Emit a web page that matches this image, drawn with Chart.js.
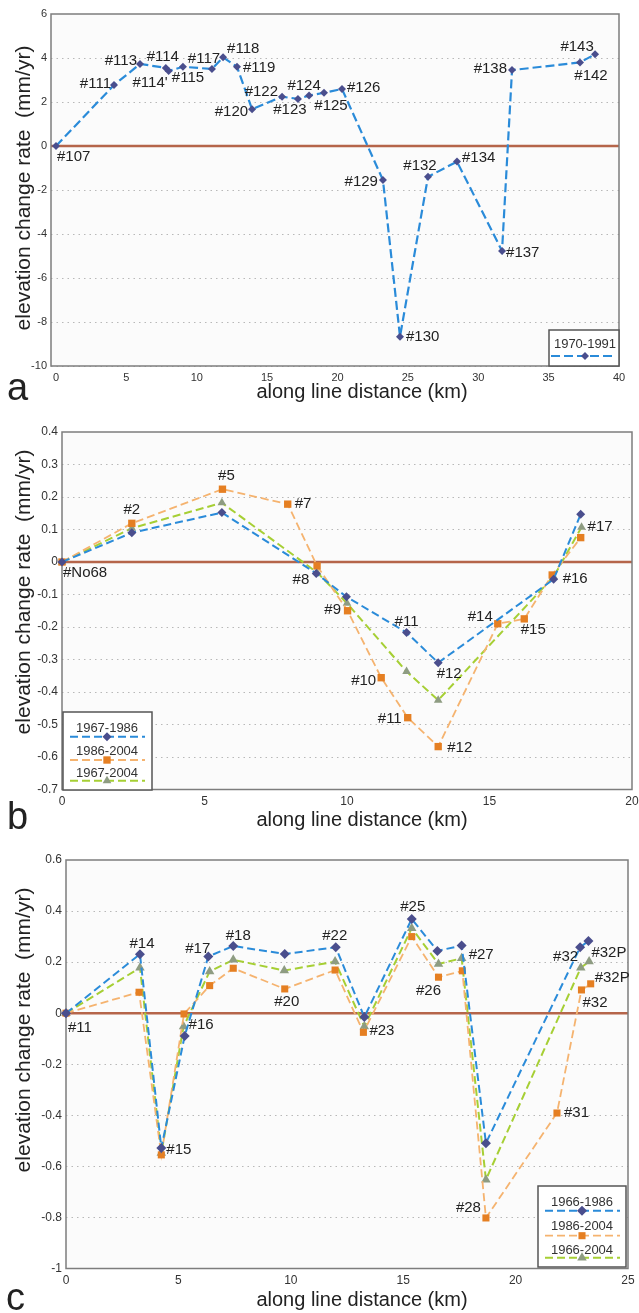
<!DOCTYPE html>
<html>
<head>
<meta charset="utf-8">
<script src="https://cdn.jsdelivr.net/npm/chart.js@4.4.1/dist/chart.umd.min.js"></script>
<style>
  body { margin: 0; background: #fff; width: 639px; height: 1313px; position: relative; overflow: hidden;
         font-family: Arial, "Liberation Sans", sans-serif; color: #222; }
  canvas { position: absolute; left: 0; }
  .xt { position: absolute; font-size: 20px; white-space: nowrap; transform: translate(-50%, -50%); }
  .yt { position: absolute; font-size: 21px; white-space: nowrap; transform: translate(-50%, -50%) rotate(-90deg); }
  .pl { position: absolute; font-size: 38px; line-height: 1; }
</style>
</head>
<body>
<canvas id="chartA"></canvas>
<canvas id="chartB"></canvas>
<canvas id="chartC"></canvas>

<div class="yt" style="left:23px;top:188px">elevation change rate&nbsp; (mm/yr)</div>
<div class="xt" style="left:362px;top:391px">along line distance (km)</div>
<div class="pl" style="left:7px;top:368px">a</div>

<div class="yt" style="left:23px;top:592px">elevation change rate&nbsp; (mm/yr)</div>
<div class="xt" style="left:362px;top:819px">along line distance (km)</div>
<div class="pl" style="left:7px;top:797px">b</div>

<div class="yt" style="left:23px;top:1030px">elevation change rate&nbsp; (mm/yr)</div>
<div class="xt" style="left:362px;top:1299px">along line distance (km)</div>
<div class="pl" style="left:6px;top:1278px">c</div>

<script>
// === DATA: PANEL A ===
const seriesNamesA = ['1970-1991'];
const stationsA = ['#107', '#111', '#113', '#114', "#114'", '#115', '#117', '#118', '#119', '#120', '#122', '#123',
  '#124', '#125', '#126', '#129', '#130', '#132', '#134', '#137', '#138', '#142', '#143'];
const distA = [0, 4.12, 5.97, 7.8, 8.0, 9.02, 11.08, 11.87, 12.86, 13.93, 16.06, 17.19,
  17.98, 19.04, 20.32, 23.23, 24.44, 26.43, 28.49, 31.69, 32.4, 37.23, 38.3];
const rateA = [0, 2.77, 3.73, 3.55, 3.41, 3.6, 3.5, 4.03, 3.6, 1.67, 2.24, 2.14,
  2.29, 2.42, 2.59, -1.55, -8.67, -1.4, -0.71, -4.77, 3.45, 3.8, 4.17];
const xTicksA = [0, 5, 10, 15, 20, 25, 30, 35, 40];
const yTicksA = [-10, -8, -6, -4, -2, 0, 2, 4, 6];

// === DATA: PANEL B ===
const seriesNamesB = ['1967-1986', '1986-2004', '1967-2004'];
const stationsB1 = ['#No68', '#2', '#5', '#8', '#9', '#11', '#12', '#16', '#17'];
const distB1 = [0, 2.45, 5.61, 8.92, 9.98, 12.09, 13.2, 17.25, 18.2];
const rateB1 = [0, 0.09, 0.152, -0.035, -0.107, -0.217, -0.31, -0.053, 0.147];
const stationsB2 = ['#No68', '#2', '#5', '#7', '#8', '#9', '#10', '#11', '#12', '#14', '#15', '#16', '#17'];
const distB2 = [0, 2.45, 5.63, 7.92, 8.95, 10.02, 11.2, 12.13, 13.2, 15.29, 16.22, 17.2, 18.2];
const rateB2 = [0, 0.119, 0.224, 0.178, -0.012, -0.15, -0.356, -0.479, -0.568, -0.19, -0.175, -0.04, 0.075];
const stationsB3 = ['#No68', '#2', '#5', '#8', '#9', '#11', '#12', '#16', '#17'];
const distB3 = [0, 2.45, 5.61, 8.95, 10.0, 12.09, 13.2, 17.25, 18.23];
const rateB3 = [0, 0.104, 0.182, -0.032, -0.127, -0.337, -0.425, -0.045, 0.107];
const xTicksB = [0, 5, 10, 15, 20];
const yTicksB = [-0.7, -0.6, -0.5, -0.4, -0.3, -0.2, -0.1, 0, 0.1, 0.2, 0.3, 0.4];

// === DATA: PANEL C ===
const seriesNamesC = ['1966-1986', '1986-2004', '1966-2004'];
const stationsC1 = ['#11', '#14', '#15', '#16', '#17', '#18', '#20', '#22', '#23', '#25', '#26', '#27', '#28', '#32', '#32P'];
const distC1 = [0, 3.29, 4.24, 5.28, 6.33, 7.44, 9.73, 12.0, 13.27, 15.38, 16.52, 17.6, 18.68, 22.87, 23.24];
const rateC1 = [0, 0.231, -0.528, -0.089, 0.222, 0.263, 0.232, 0.258, -0.015, 0.369, 0.244, 0.265, -0.509, 0.258, 0.283];
const stationsC2 = ['#11', '#14', '#15', '#16', '#17', '#18', '#20', '#22', '#23', '#25', '#26', '#27', '#28', '#31', '#32', '#32P'];
const distC2 = [0, 3.25, 4.24, 5.25, 6.39, 7.44, 9.73, 11.97, 13.23, 15.38, 16.57, 17.63, 18.68, 21.84, 22.93, 23.34];
const rateC2 = [0, 0.082, -0.555, -0.003, 0.108, 0.176, 0.095, 0.169, -0.075, 0.3, 0.141, 0.166, -0.802, -0.391, 0.091, 0.115];
const stationsC3 = stationsC1;
const distC3 = [0, 3.29, 4.24, 5.23, 6.39, 7.44, 9.71, 11.97, 13.27, 15.38, 16.57, 17.6, 18.68, 22.9, 23.27];
const rateC3 = [0, 0.178, -0.548, -0.052, 0.163, 0.209, 0.167, 0.202, -0.052, 0.333, 0.193, 0.215, -0.652, 0.178, 0.202];
const xTicksC = [0, 5, 10, 15, 20, 25];
const yTicksC = [-1, -0.8, -0.6, -0.4, -0.2, 0, 0.2, 0.4, 0.6];

// === STYLE ===
const FONT = 'Arial, "Liberation Sans", sans-serif';
Chart.defaults.font.family = FONT;
const BLUE = { line: '#2a8bd9', mark: '#4a4e8d', style: 'rectRot' };
const ORANGE = { line: '#f5b36f', mark: '#e57f22', style: 'rect' };
const GREEN = { line: '#a6cf34', mark: '#8e9c82', style: 'triangle' };

// label placement [dx, dy, align] for each station of panel a
const labelPosA = [[1, 11, 'left'], [-3, -1, 'right'], [-3, -3, 'right'], [-3, -11, 'center'], [-1, 12, 'right'],
  [5, 11, 'center'], [-8, -10, 'center'], [4, -8, 'left'], [6, 1, 'left'], [-4, 3, 'right'], [-4, -5, 'right'],
  [-8, 11, 'center'], [-5, -10, 'center'], [7, 13, 'center'], [5, -1, 'left'], [-5, 2, 'right'], [6, 0, 'left'],
  [-8, -11, 'center'], [5, -4, 'left'], [4, 2, 'left'], [-5, -1, 'right'], [11, 13, 'center'], [-18, -7, 'center']];
// [series, index, dx, dy, align]
const labelPosB = [[0, 0, 1, 11, 'left'], [1, 1, 0, -13, 'center'], [1, 2, 4, -13, 'center'], [1, 3, 7, 0, 'left'],
  [0, 3, -7, 6, 'right'], [2, 4, -6, 7, 'right'], [0, 5, 0, -11, 'center'], [0, 6, 11, 11, 'center'],
  [1, 6, -5, 3, 'right'], [1, 7, -6, 1, 'right'], [1, 8, 9, 1, 'left'], [1, 9, -5, -7, 'right'],
  [1, 10, 9, 11, 'center'], [0, 7, 9, 0, 'left'], [2, 8, 6, 0, 'left']];
const labelPosC = [[0, 0, 2, 15, 'left'], [0, 1, 2, -10, 'center'], [0, 2, 5, 2, 'left'], [2, 3, 5, -2, 'left'],
  [0, 4, 2, -8, 'right'], [0, 5, 5, -10, 'center'], [1, 6, 2, 13, 'center'], [0, 7, -1, -11, 'center'],
  [1, 8, 6, -1, 'left'], [0, 9, 1, -12, 'center'], [1, 10, -10, 14, 'center'], [2, 11, 7, -3, 'left'],
  [1, 12, -5, -10, 'right'], [1, 13, 7, 0, 'left'], [0, 13, -2, 10, 'right'], [0, 14, 3, 12, 'left'],
  [1, 15, 4, -6, 'left'], [1, 14, 1, 13, 'left']];

// === DRAW HELPERS ===
function drawMarker(ctx, style, r, x, y, color) {
  ctx.fillStyle = color;
  ctx.beginPath();
  if (style === 'rectRot') {
    ctx.moveTo(x, y - r); ctx.lineTo(x + r, y); ctx.lineTo(x, y + r); ctx.lineTo(x - r, y);
  } else if (style === 'rect') {
    const s = r * Math.SQRT1_2;
    ctx.rect(x - s, y - s, 2 * s, 2 * s);
  } else {
    ctx.moveTo(x, y - r); ctx.lineTo(x + r * 0.866, y + r / 2); ctx.lineTo(x - r * 0.866, y + r / 2);
  }
  ctx.closePath();
  ctx.fill();
}

const decor = {
  id: 'decor',
  beforeDraw(chart) {
    const { ctx, chartArea: a } = chart;
    ctx.save();
    ctx.fillStyle = '#fbfbfb';
    ctx.fillRect(a.left, a.top, a.right - a.left, a.bottom - a.top);
    ctx.restore();
  },
  beforeDatasetsDraw(chart) {
    const { ctx, chartArea: a, scales } = chart;
    const y0 = scales.y.getPixelForValue(0);
    ctx.save();
    ctx.strokeStyle = '#b5654a';
    ctx.lineWidth = 2.5;
    ctx.beginPath(); ctx.moveTo(a.left, y0); ctx.lineTo(a.right, y0); ctx.stroke();
    ctx.strokeStyle = '#7d7d7d';
    ctx.lineWidth = 1.5;
    ctx.strokeRect(a.left, a.top, a.right - a.left, a.bottom - a.top);
    ctx.restore();
  },
  afterDatasetsDraw(chart, args, o) {
    const ctx = chart.ctx;
    ctx.save();
    // station labels
    ctx.font = '15px ' + FONT;
    ctx.fillStyle = '#222';
    ctx.textBaseline = 'middle';
    o.labels.forEach(([s, i, dx, dy, align]) => {
      const p = chart.getDatasetMeta(s).data[i];
      ctx.textAlign = align;
      ctx.fillText(o.names[s][i], p.x + dx, p.y + dy);
    });
    // legend
    const L = o.legend, t = o.top;
    ctx.fillStyle = '#fff';
    ctx.strokeStyle = '#555';
    ctx.lineWidth = 1.5;
    ctx.fillRect(L.box[0], L.box[1] - t, L.box[2] - L.box[0], L.box[3] - L.box[1]);
    ctx.strokeRect(L.box[0], L.box[1] - t, L.box[2] - L.box[0], L.box[3] - L.box[1]);
    ctx.font = '13px ' + FONT;
    ctx.textAlign = 'center';
    chart.data.datasets.forEach((ds, k) => {
      const [ty, ly] = L.rows[k];
      ctx.fillStyle = '#333';
      ctx.fillText(ds.label, L.cx, ty - t);
      ctx.strokeStyle = ds.borderColor;
      ctx.lineWidth = ds.borderWidth;
      ctx.setLineDash(ds.borderDash);
      ctx.beginPath(); ctx.moveTo(L.lx[0], ly - t); ctx.lineTo(L.lx[1], ly - t); ctx.stroke();
      ctx.setLineDash([]);
      drawMarker(ctx, ds.pointStyle, ds.pointRadius, L.cx, ly - t, ds.pointBackgroundColor);
    });
    ctx.restore();
  }
};

function makeSeries(name, xs, ys, col, r, w, dash) {
  return {
    label: name,
    data: xs.map((x, i) => ({ x, y: ys[i] })),
    borderColor: col.line, borderWidth: w, borderDash: dash,
    pointStyle: col.style, pointRadius: r, pointHoverRadius: r,
    pointBackgroundColor: col.mark, pointBorderWidth: 0,
    fill: false, tension: 0, clip: false
  };
}

const fmt = v => String(+Number(v).toFixed(2));

// p: id, top, h, box [left, top, right, bottom] in page px
function makePanel(p) {
  const cv = document.getElementById(p.id);
  cv.width = 639; cv.height = p.h;
  cv.style.top = p.top + 'px';
  const [bl, bt, br, bb] = p.box;
  const xH = p.top + p.h - bb;
  return new Chart(cv, {
    type: 'line',
    data: { datasets: p.datasets },
    options: {
      responsive: false, animation: false, devicePixelRatio: 1, locale: 'en-US',
      layout: { padding: { left: 0, top: bt - p.top, right: 639 - br, bottom: 0 } },
      plugins: {
        legend: { display: false }, tooltip: { enabled: false },
        decor: { labels: p.labels, names: p.names, legend: p.legend, top: p.top }
      },
      scales: {
        x: {
          type: 'linear', min: p.xMin, max: p.xMax,
          afterBuildTicks: s => { s.ticks = p.xTicks.map(v => ({ value: v })); },
          afterFit: s => { s.height = xH; s.paddingLeft = 0; s.paddingRight = 0; },
          grid: { display: false, drawTicks: false }, border: { display: false },
          ticks: { font: { size: p.fs }, color: '#333', padding: 5, maxRotation: 0, autoSkip: false, callback: fmt }
        },
        y: {
          min: p.yTicks[0], max: p.yTicks[p.yTicks.length - 1],
          afterBuildTicks: s => { s.ticks = p.yTicks.map(v => ({ value: v })); },
          afterFit: s => { s.width = bl; s.paddingTop = 0; s.paddingBottom = 0; },
          grid: {
            color: c => (c.tick && (c.tick.value === 0 || c.index === p.yTicks.length - 1)) ? 'rgba(0,0,0,0)' : '#b8b8b8',
            lineWidth: 1, drawTicks: false
          },
          border: { display: false, dash: [1.5, 4] },
          ticks: { font: { size: p.fs }, color: '#333', padding: 4, autoSkip: false, callback: fmt }
        }
      }
    },
    plugins: [decor]
  });
}

// === PANEL A ===
makePanel({
  id: 'chartA', top: 0, h: 398, box: [51, 14, 619, 366],
  xMin: -0.355, xMax: 40, xTicks: xTicksA, yTicks: yTicksA, fs: 11,
  datasets: [makeSeries(seriesNamesA[0], distA, rateA, BLUE, 4, 2.2, [9, 4])],
  names: [stationsA],
  labels: labelPosA.map((q, i) => [0, i, q[0], q[1], q[2]]),
  legend: { box: [549, 330, 619, 366], cx: 585, lx: [551, 612], rows: [[344, 356]] }
});

// === PANEL B ===
makePanel({
  id: 'chartB', top: 400, h: 425, box: [62, 432, 632, 789.5],
  xMin: 0, xMax: 20, xTicks: xTicksB, yTicks: yTicksB, fs: 12,
  datasets: [
    makeSeries(seriesNamesB[0], distB1, rateB1, BLUE, 4.5, 2, [8, 4]),
    makeSeries(seriesNamesB[1], distB2, rateB2, ORANGE, 5.2, 1.8, [8, 4]),
    makeSeries(seriesNamesB[2], distB3, rateB3, GREEN, 5, 2, [8, 4])
  ],
  names: [stationsB1, stationsB2, stationsB3],
  labels: labelPosB,
  legend: { box: [63, 712, 152, 790], cx: 107, lx: [70, 145], rows: [[728, 736.7], [751, 760], [773, 780.7]] }
});

// === PANEL C ===
makePanel({
  id: 'chartC', top: 840, h: 460, box: [66, 860, 628, 1268.5],
  xMin: 0, xMax: 25, xTicks: xTicksC, yTicks: yTicksC, fs: 12,
  datasets: [
    makeSeries(seriesNamesC[0], distC1, rateC1, BLUE, 5, 2, [8, 4]),
    makeSeries(seriesNamesC[1], distC2, rateC2, ORANGE, 5, 1.8, [8, 4]),
    makeSeries(seriesNamesC[2], distC3, rateC3, GREEN, 5.5, 2, [8, 4])
  ],
  names: [stationsC1, stationsC2, stationsC3],
  labels: labelPosC,
  legend: { box: [538, 1186, 626, 1267], cx: 582, lx: [545, 620], rows: [[1202.7, 1210.7], [1226.7, 1235.7], [1250.7, 1257.7]] }
});
</script>
</body>
</html>
